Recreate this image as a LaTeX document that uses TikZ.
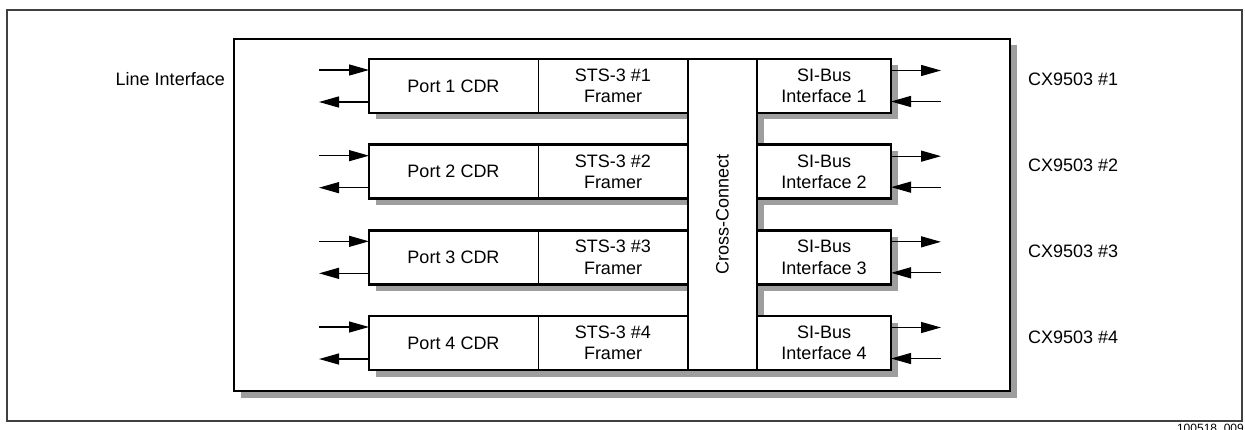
\documentclass[tikz,border=0pt]{standalone}
\usepackage{fontspec}
\setmainfont{Liberation Sans}
\usetikzlibrary{positioning,shadows,arrows.meta}

\begin{document}
\begin{tikzpicture}[
		x=1pt, y=-1pt,
		font=\fontsize{18}{21.5}\selectfont,
		box/.style = {draw, line width=2.6pt, fill=white, inner sep=0pt, outer sep=0pt,
			drop shadow={shadow xshift=6.5pt, shadow yshift=-6.5pt, opacity=1, fill=black!38}},
		cell/.style = {box, line width=1pt, minimum height=54pt, align=center},
		rim/.style = {line width=2.6pt},
		sig/.style = {line width=1.3pt, -{Triangle[length=20pt,width=11pt]}},
		lab/.style = {inner sep=0pt}
	]
	\useasboundingbox (0,0) rectangle (1245,430);
	\node[draw=black!75, line width=1.2pt, inner sep=0pt, minimum width=1235pt, minimum height=411pt] (panel) at (624.5,215.5) {};
	\node[box, minimum width=776pt, minimum height=352pt] (chip) at (622,215) {};
	\node[lab, anchor=base east] (lineif) at (225,86) {Line Interface};
	% line side: CDR and framer for each port
	\foreach \k in {1,...,4} {
		\pgfmathsetmacro\yc{86+85.67*(\k-1)}
		\node[cell, minimum width=169pt] (cdr\k) at (453.5,\yc) {Port \k\ CDR};
		\node[cell, minimum width=150pt, right=0pt of cdr\k] (fram\k) {STS-3 \#\k\\Framer};
		\draw[rim] (cdr\k.north west) rectangle (fram\k.south east);
		\coordinate (pin\k) at ([xshift=-50pt,yshift=16pt]cdr\k.west);
		\coordinate (pout\k) at ([xshift=-50pt,yshift=-16pt]cdr\k.west);
		\draw[sig] (pin\k) -- (pin\k -| cdr\k.west);
		\draw[sig] (pout\k -| cdr\k.west) -- (pout\k);
	}
	\node[box, minimum width=69pt, minimum height=311pt] (xconn) at (722.5,214.5) {\rotatebox{90}{Cross-Connect}};
	% bus side
	\foreach \k in {1,...,4} {
		\pgfmathsetmacro\yc{86+85.67*(\k-1)}
		\node[box, minimum width=134pt, minimum height=54pt, align=center, anchor=west] (sbi\k) at (xconn.east |- cdr\k) {SI-Bus\\Interface \k};
		\coordinate (bout\k) at ([xshift=50pt,yshift=15.5pt]sbi\k.east);
		\coordinate (bin\k) at ([xshift=50pt,yshift=-15.5pt]sbi\k.east);
		\draw[sig] (bout\k -| sbi\k.east) -- (bout\k);
		\draw[sig] (bin\k) -- (bin\k -| sbi\k.east);
		\node[lab, anchor=base west] (cx\k) at (1028,\yc) {CX9503 \#\k};
	}
	\node[lab, anchor=base east, font=\fontsize{12}{14}\selectfont] (figid) at (1244,432.5) {100518\_009};
\end{tikzpicture}
\end{document}
